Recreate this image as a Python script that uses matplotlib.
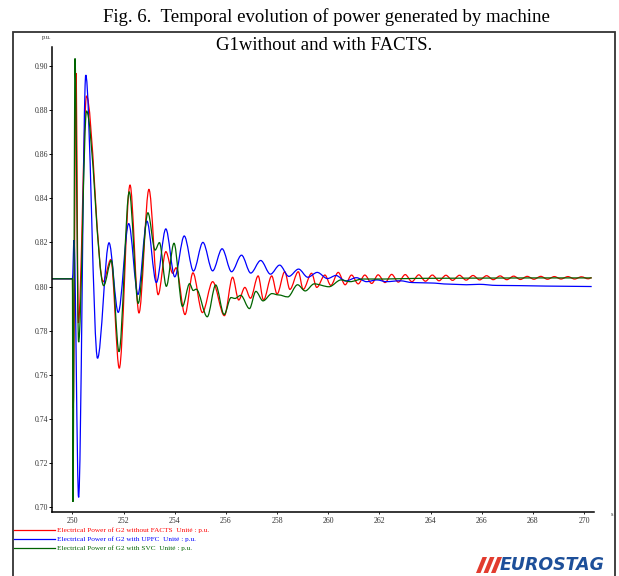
import matplotlib
matplotlib.use('Agg')
import matplotlib.pyplot as plt
from matplotlib.path import Path
from matplotlib.patches import PathPatch, Rectangle, Polygon
from matplotlib.lines import Line2D

# turning points of each curve (time in s, power in p.u.)
t_red = [249.19, 250.00, 250.03, 250.14, 250.23, 250.55, 251.20, 251.50, 251.83, 252.25,
         252.60, 252.99, 253.35, 253.65, 253.92, 254.05, 254.40, 254.71, 255.08, 255.48,
         255.94, 256.26, 256.50, 256.74, 256.96, 257.26, 257.47, 257.79, 258.00, 258.30,
         258.50, 258.83, 259.02, 259.35, 259.55, 259.87, 260.10, 260.39, 260.66, 260.91,
         261.17, 261.43, 261.70, 261.95, 262.22, 262.48, 262.74, 263.01, 263.27, 263.54,
         263.80, 264.07, 264.33, 264.60, 264.86, 265.13, 265.39, 265.66, 265.92, 266.19,
         266.45, 266.72, 266.98, 267.25, 267.51, 267.78, 268.04, 268.31, 268.57, 268.84,
         269.10, 269.37, 269.63, 269.90, 270.16, 270.30]
p_red = [0.8035, 0.8035, 0.7450, 0.8966, 0.7835, 0.8863, 0.8022, 0.8122, 0.7630, 0.8460,
         0.7880, 0.8440, 0.7963, 0.8158, 0.8060, 0.8085, 0.7873, 0.8062, 0.7882, 0.8022,
         0.7868, 0.8042, 0.7939, 0.7996, 0.7947, 0.8048, 0.7939, 0.8048, 0.7966, 0.8067,
         0.7987, 0.8067, 0.7987, 0.8060, 0.7996, 0.8052, 0.8005, 0.8064, 0.8008, 0.8052,
         0.8012, 0.8052, 0.8014, 0.8053, 0.8018, 0.8055, 0.8020, 0.8054, 0.8022, 0.8053,
         0.8024, 0.8052, 0.8026, 0.8051, 0.8028, 0.8051, 0.8029, 0.8050, 0.8030, 0.8049,
         0.8031, 0.8048, 0.8031, 0.8047, 0.8032, 0.8046, 0.8033, 0.8046, 0.8033, 0.8045,
         0.8034, 0.8045, 0.8034, 0.8044, 0.8035, 0.8040]

t_blue = [249.19, 250.00, 250.06, 250.24, 250.52, 250.98, 251.43, 251.79, 252.20, 252.56,
          252.91, 253.28, 253.65, 254.00, 254.37, 254.73, 255.10, 255.48, 255.85, 256.22,
          256.61, 256.97, 257.36, 257.74, 258.10, 258.46, 258.84, 259.20, 259.57, 259.97,
          260.30, 260.68, 261.10, 261.50, 261.90, 262.27, 262.80, 263.30, 264.00, 264.70,
          265.40, 265.90, 266.60, 267.50, 268.50, 270.30]
p_blue = [0.8035, 0.8035, 0.8210, 0.7045, 0.8958, 0.7675, 0.8198, 0.7883, 0.8285, 0.7964,
          0.8296, 0.8018, 0.8261, 0.8044, 0.8229, 0.8070, 0.8200, 0.8071, 0.8171, 0.8067,
          0.8142, 0.8061, 0.8118, 0.8056, 0.8097, 0.8046, 0.8079, 0.8042, 0.8064, 0.8036,
          0.8050, 0.8025, 0.8040, 0.8022, 0.8030, 0.8022, 0.8026, 0.8018, 0.8016, 0.8011,
          0.8008, 0.8010, 0.8005, 0.8004, 0.8002, 0.8000]

t_green = [249.19, 250.00, 250.02, 250.10, 250.24, 250.55, 251.22, 251.52, 251.82, 252.22,
           252.57, 252.95, 253.23, 253.40, 253.67, 253.97, 254.30, 254.58, 254.72, 254.84,
           255.27, 255.60, 255.93, 256.20, 256.35, 256.58, 256.92, 257.17, 257.45, 257.80,
           258.05, 258.42, 258.80, 259.10, 259.45, 260.03, 260.50, 260.85, 261.35, 262.20,
           263.50, 265.50, 268.00, 270.30]
p_green = [0.8035, 0.8035, 0.7025, 0.9033, 0.7748, 0.8795, 0.8004, 0.8118, 0.7705, 0.8429,
           0.7924, 0.8334, 0.8165, 0.8199, 0.8001, 0.8196, 0.7910, 0.8013, 0.7982, 0.7988,
           0.7863, 0.8007, 0.7873, 0.7950, 0.7946, 0.7960, 0.7900, 0.7978, 0.7935, 0.7968,
           0.7962, 0.7953, 0.8008, 0.7980, 0.8012, 0.7999, 0.8030, 0.8022, 0.8034, 0.8034,
           0.8037, 0.8038, 0.8039, 0.8039]

names = ['Electrical Power of G2 without FACTS  Unit\u00e9 : p.u.',
         'Electrical Power of G2 with UPFC  Unit\u00e9 : p.u.',
         'Electrical Power of G2 with SVC  Unit\u00e9 : p.u.']
colors = ['#ff0000', '#0000ff', '#006400']

yticks = [0.70, 0.72, 0.74, 0.76, 0.78, 0.80, 0.82, 0.84, 0.86, 0.88, 0.90]
xticks = [250, 252, 254, 256, 258, 260, 262, 264, 266, 268, 270]

title1 = 'Fig. 6.  Temporal evolution of power generated by machine'
title2 = 'G1without and with FACTS.'


def smooth_path(t, v):
    # bezier segments with flat tangents at each turning point
    verts = [(t[0], v[0])]
    codes = [Path.MOVETO]
    for i in range(1, len(t)):
        dt = (t[i] - t[i - 1]) / 3.0
        verts += [(t[i - 1] + dt, v[i - 1]), (t[i] - dt, v[i]), (t[i], v[i])]
        codes += [Path.CURVE4] * 3
    return Path(verts, codes)


serif = 'Liberation Serif'
W, H = 619, 576
fig = plt.figure(figsize=(W / 100, H / 100), dpi=100)
ax = fig.add_axes([52 / W, 1 - 511.7 / H, (594 - 52) / W, (511.7 - 47) / H])

series = [(t_red, p_red), (t_blue, p_blue), (t_green, p_green)]
for (t, p), c in zip(series, colors):
    ax.add_patch(PathPatch(smooth_path(t, p), facecolor='none', edgecolor=c, lw=0.9))

ax.set_xlim(249.2, 270.39)
ax.set_ylim(0.698, 0.9085)
ax.set_xticks(xticks)
ax.set_xticklabels([str(x) for x in xticks])
ax.set_yticks(yticks)
ax.set_yticklabels(['%.2f' % y for y in yticks])
for s in ['top', 'right']:
    ax.spines[s].set_visible(False)
for s in ['left', 'bottom']:
    ax.spines[s].set_linewidth(1.1)
ax.tick_params(axis='y', direction='out', length=2.2, width=0.7, pad=0.6,
               labelsize=5.6, labelcolor='#333333')
ax.tick_params(axis='x', direction='out', length=1.5, width=0.6, pad=2.5,
               labelsize=5.6, labelcolor='#333333')
for lab in ax.get_xticklabels() + ax.get_yticklabels():
    lab.set_family(serif)

# unit labels
fig.text(47 / W, 1 - 38 / H, 'p.u.', ha='center', va='center', family=serif,
         size=4.6, color='#333333')
fig.text(612 / W, 1 - 514 / H, 's', ha='center', va='center', family=serif,
         size=4.6, color='#333333')

# legend rows below the plot
for i, (name, c) in enumerate(zip(names, colors)):
    y = 1 - (530 + 9 * i) / H
    fig.add_artist(Line2D([14 / W, 55 / W], [y, y], color=c, lw=0.9,
                          transform=fig.transFigure))
    fig.text(57 / W, y, name, ha='left', va='center', family=serif, size=5.2, color=c)

# frame around the figure
fig.add_artist(Rectangle((13 / W, -0.02), (615 - 13) / W, 1.02 - 32 / H, fill=False,
                         edgecolor='#333333', lw=1.3, transform=fig.transFigure))

# caption
fig.text(326 / W, 1 - 17 / H, title1, ha='center', va='center', family=serif, size=13.5)
fig.text(324 / W, 1 - 46 / H, title2, ha='center', va='center', family=serif, size=13.5)

# logo: three slanted bars and the name
for k in range(3):
    x0 = 476 + 7.5 * k
    bar = [(x0, 573), (x0 + 4.5, 573), (x0 + 11, 557), (x0 + 6.5, 557)]
    fig.add_artist(Polygon([(px / W, 1 - py / H) for px, py in bar], closed=True,
                           facecolor='#e23b2e', edgecolor='none',
                           transform=fig.transFigure))
fig.text(500 / W, 1 - 565.5 / H, 'EUROSTAG', ha='left', va='center', family='DejaVu Sans',
         weight='bold', style='italic', size=12.5, color='#1d4f99')

fig.savefig('out.png', dpi=100)
